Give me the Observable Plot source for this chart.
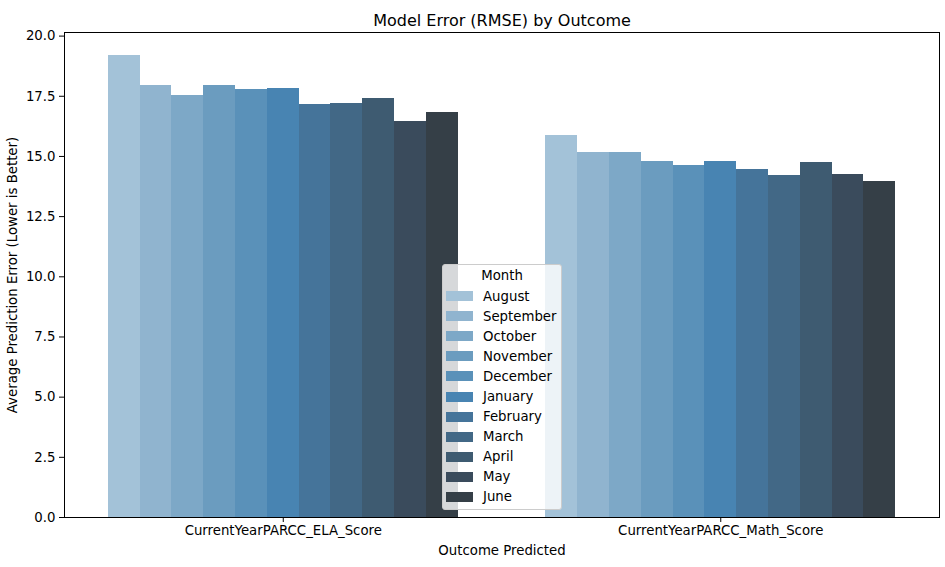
<!DOCTYPE html>
<html><head><meta charset="utf-8">
<script src="https://cdn.jsdelivr.net/npm/d3@7"></script>
<script src="https://cdn.jsdelivr.net/npm/@observablehq/plot@0.6"></script>
<style>
body{margin:0;background:#fff;font-family:"DejaVu Sans",sans-serif;}
#wrap{position:relative;width:945px;height:567px;overflow:hidden;}
#legend{position:absolute;left:442px;top:264px;width:120px;height:246px;background:rgba(255,255,255,0.8);border:1px solid #cccccc;border-radius:3px;box-sizing:border-box;font-size:13.3px;color:#000;padding-top:1px;}
#legend .ttl{height:20px;line-height:20px;text-align:center;}
#legend .row{height:20.1px;display:flex;align-items:center;}
#legend .sw{width:27px;height:10px;margin-left:3px;margin-right:10px;flex:none;}
</style></head><body><div id="wrap"></div>
<script>
const outcomes = ["CurrentYearPARCC_ELA_Score", "CurrentYearPARCC_Math_Score"];
const months = ["August","September","October","November","December","January","February","March","April","May","June"];
const elaRmse  = [19.19, 17.95, 17.55, 17.95, 17.79, 17.83, 17.17, 17.22, 17.42, 16.47, 16.83];
const mathRmse = [15.86, 15.15, 15.15, 14.78, 14.63, 14.78, 14.47, 14.19, 14.74, 14.23, 13.95];
const palette = ["#a3c2d8","#90b4cf","#7da8c7","#6b9cbf","#5a91b9","#4884b2","#45749a","#426886","#3e5b71","#3a4b5c","#353f47"];
const yTicks = [0, 2.5, 5, 7.5, 10, 12.5, 15, 17.5, 20];
const title = "Model Error (RMSE) by Outcome";
const xLabel = "Outcome Predicted";
const yLabel = "Average Prediction Error (Lower is Better)";
const legendTitle = "Month";

const series = [elaRmse, mathRmse];
const rows = outcomes.flatMap((o, i) => months.map((m, j) => ({outcome: o, month: m, value: series[i][j], i, j})));
const bw = 0.8 / months.length;

const chart = Plot.plot({
  width: 945, height: 567,
  marginLeft: 64, marginRight: 6, marginTop: 32, marginBottom: 50,
  style: {fontFamily: "DejaVu Sans", fontSize: "13.3px", color: "#000", background: "#fff"},
  x: {domain: [-0.5, 1.5]},
  y: {domain: [0, d3.max(elaRmse.concat(mathRmse)) * 1.05]},
  color: {domain: months, range: palette},
  marks: [
    Plot.rectY(rows, {x1: d => d.i - 0.4 + d.j * bw, x2: d => d.i - 0.4 + (d.j + 1) * bw, y: "value", fill: "month", shapeRendering: "crispEdges"}),
    Plot.axisY({ticks: yTicks, tickFormat: d => d.toFixed(1), tickSize: 5, tickPadding: 4, label: null, fontSize: 13.3}),
    Plot.axisX({ticks: [0, 1], tickFormat: i => outcomes[i], tickSize: 5, tickPadding: 3, label: null, fontSize: 13.3}),
    Plot.frame({stroke: "#000", strokeWidth: 1}),
    Plot.text([title], {text: d => d, frameAnchor: "top", dy: -18, fontSize: 16}),
    Plot.text([xLabel], {text: d => d, frameAnchor: "bottom", dy: 37, fontSize: 13.3}),
    Plot.text([yLabel], {text: d => d, frameAnchor: "left", textAnchor: "middle", rotate: -90, dx: -52, fontSize: 13.3})
  ]
});
const wrap = document.getElementById("wrap");
wrap.appendChild(chart);

const lg = document.createElement("div");
lg.id = "legend";
const t = document.createElement("div");
t.className = "ttl"; t.textContent = legendTitle;
lg.appendChild(t);
months.forEach((m, k) => {
  const r = document.createElement("div"); r.className = "row";
  const s = document.createElement("span"); s.className = "sw"; s.style.background = palette[k];
  const l = document.createElement("span"); l.textContent = m;
  r.appendChild(s); r.appendChild(l); lg.appendChild(r);
});
wrap.appendChild(lg);
</script></body></html>
